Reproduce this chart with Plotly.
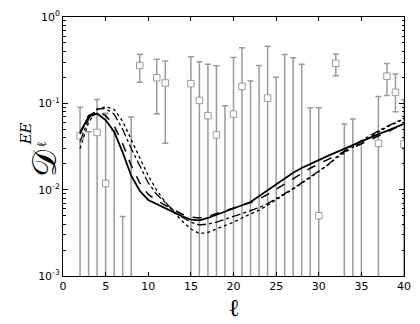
import plotly.graph_objects as go

# ---------------- data ----------------
ell_data = [2, 3, 4, 5, 6, 7, 8, 9, 11, 12, 15, 16, 17, 18, 19, 20, 21, 22, 23, 24,
            25, 26, 27, 28, 29, 30, 32, 33, 34, 35, 37, 38, 39, 40]
# None -> no detected value (upper limit only)
val = [0.042, None, 0.046, 0.0118, None, None, None, 0.274, 0.198, 0.172, 0.169, 0.108,
       0.072, 0.043, None, 0.075, 0.157, None, None, 0.115, None, None, None, None, None,
       0.005, 0.291, None, None, None, 0.0344, 0.206, 0.134, 0.0337]
upper = [0.09, 0.047, 0.111, 0.077, 0.048, 0.0049, 0.0696, 0.371, 0.323, 0.31, 0.346,
         0.304, 0.284, 0.272, 0.094, 0.34, 0.44, 0.181, 0.274, 0.457, 0.2, 0.367, 0.337,
         0.284, 0.089, 0.089, 0.374, 0.0576, 0.066, 0.036, 0.12, 0.289, 0.219, 0.11]
# None -> lower end falls below the axis
lower = [None, None, None, None, None, None, None, 0.175, 0.075, 0.0346, None, None,
         None, None, None, None, None, None, None, None, None, None, None, None, None,
         None, 0.208, None, None, None, None, 0.123, 0.08, None]

ell = list(range(2, 41))
model_solid = [0.046, 0.070, 0.076, 0.064, 0.047, 0.027, 0.0145, 0.0097, 0.0076, 0.0068,
               0.0061, 0.0055, 0.0049, 0.0045, 0.0044, 0.0047, 0.0051, 0.0055, 0.0060,
               0.0066, 0.0072, 0.0084, 0.0099, 0.0116, 0.0136, 0.0157, 0.0178, 0.0200,
               0.0220, 0.0245, 0.0270, 0.0300, 0.0330, 0.0367, 0.0400, 0.0440, 0.0480,
               0.0530, 0.0580]
model_dashed = [0.044, 0.072, 0.081, 0.072, 0.055, 0.034, 0.019, 0.012, 0.0088, 0.0075,
                0.0066, 0.0058, 0.0052, 0.0048, 0.0047, 0.0049, 0.0053, 0.0057, 0.0061,
                0.0066, 0.0071, 0.0078, 0.0088, 0.0101, 0.0118, 0.0136, 0.0156, 0.0177,
                0.0199, 0.0223, 0.0249, 0.0277, 0.0307, 0.0340, 0.0376, 0.0415, 0.0464,
                0.0520, 0.0600]
model_dashdot = [0.036, 0.066, 0.086, 0.087, 0.075, 0.050, 0.030, 0.019, 0.012, 0.0088,
                 0.0070, 0.0057, 0.0048, 0.0042, 0.0039, 0.0040, 0.0042, 0.0045, 0.0049,
                 0.0053, 0.0057, 0.0062, 0.0069, 0.0078, 0.0090, 0.0103, 0.0120, 0.0140,
                 0.0163, 0.0192, 0.0235, 0.0280, 0.0325, 0.0372, 0.0425, 0.0480, 0.0540,
                 0.0600, 0.0670]
model_dotted = [0.030, 0.060, 0.085, 0.092, 0.085, 0.062, 0.038, 0.023, 0.0145, 0.0098,
                0.0072, 0.0055, 0.0043, 0.0035, 0.0031, 0.0032, 0.0035, 0.0038, 0.0042,
                0.0047, 0.0052, 0.0058, 0.0066, 0.0076, 0.0088, 0.0101, 0.0118, 0.0138,
                0.0160, 0.0190, 0.0230, 0.0270, 0.0310, 0.0360, 0.0410, 0.0470, 0.0530,
                0.0590, 0.0660]

x_ticks = [0, 5, 10, 15, 20, 25, 30, 35, 40]
y_ticks = [1e-3, 1e-2, 1e-1, 1e0]
y_ticklabels = ["10<sup>-3</sup>", "10<sup>-2</sup>", "10<sup>-1</sup>", "10<sup>0</sup>"]

# ---------------- figure ----------------
FLOOR = 1e-4  # below the visible range
y_plot = [v if v is not None else FLOOR for v in val]
err_plus = [u - y for u, y in zip(upper, y_plot)]
err_minus = [(y - lo) if lo is not None else (y - FLOOR * 0.1) for lo, y in zip(lower, y_plot)]

grey = "#9a9a9a"
fig = go.Figure()
fig.add_trace(go.Scatter(
    x=ell_data, y=y_plot, mode="markers",
    marker=dict(symbol="square", size=6.5, color="white", line=dict(color=grey, width=1)),
    error_y=dict(type="data", symmetric=False, array=err_plus, arrayminus=err_minus,
                 color=grey, thickness=1.5, width=3),
    showlegend=False,
))

for ys, dash, w in [(model_dotted, "dot", 1.3), (model_dashdot, "dashdot", 1.3),
                    (model_dashed, "dash", 1.5), (model_solid, "solid", 1.8)]:
    fig.add_trace(go.Scatter(x=ell, y=ys, mode="lines",
                             line=dict(color="black", width=w, dash=dash),
                             showlegend=False))

axis_common = dict(showline=True, linecolor="black", linewidth=1, mirror="allticks",
                   ticks="inside", tickcolor="black", showgrid=False, zeroline=False,
                   tickfont=dict(family="DejaVu Sans", size=11, color="black"))

fig.update_xaxes(range=[0, 40], tickvals=x_ticks, ticklen=4, **axis_common)
fig.update_yaxes(type="log", range=[-3, 0], tickvals=y_ticks, ticktext=y_ticklabels,
                 ticklen=5,
                 minor=dict(ticks="inside", ticklen=2.5, tickcolor="black", showgrid=False,
                            tickvals=[m * 10 ** e for e in (-3, -2, -1) for m in range(2, 10)]),
                 **axis_common)

ann_font = dict(family="DejaVu Serif", color="black")
fig.add_annotation(text="ℓ", xref="paper", yref="paper", x=0.5, y=0, yshift=-32,
                   showarrow=False, font=dict(size=24, **ann_font), yanchor="middle")
fig.add_annotation(text="𝒟", xref="paper", yref="paper", x=0, y=(276 - 160) / 267,
                   xshift=22 - 63, showarrow=False, textangle=-90,
                   font=dict(size=34, **ann_font))
fig.add_annotation(text="<i>EE</i>", xref="paper", yref="paper", x=0, y=(276 - 130) / 267,
                   xshift=15 - 63, showarrow=False, textangle=-90,
                   font=dict(size=15, **ann_font))
fig.add_annotation(text="ℓ", xref="paper", yref="paper", x=0, y=(276 - 141) / 267,
                   xshift=32 - 63, showarrow=False, textangle=-90,
                   font=dict(size=13, **ann_font))

fig.update_layout(width=420, height=324, margin=dict(l=63, r=12, t=9, b=48),
                  plot_bgcolor="white", paper_bgcolor="white")

fig.write_html("out.html", config={"displayModeBar": False},
               post_script="document.body.style.margin='0px';")
